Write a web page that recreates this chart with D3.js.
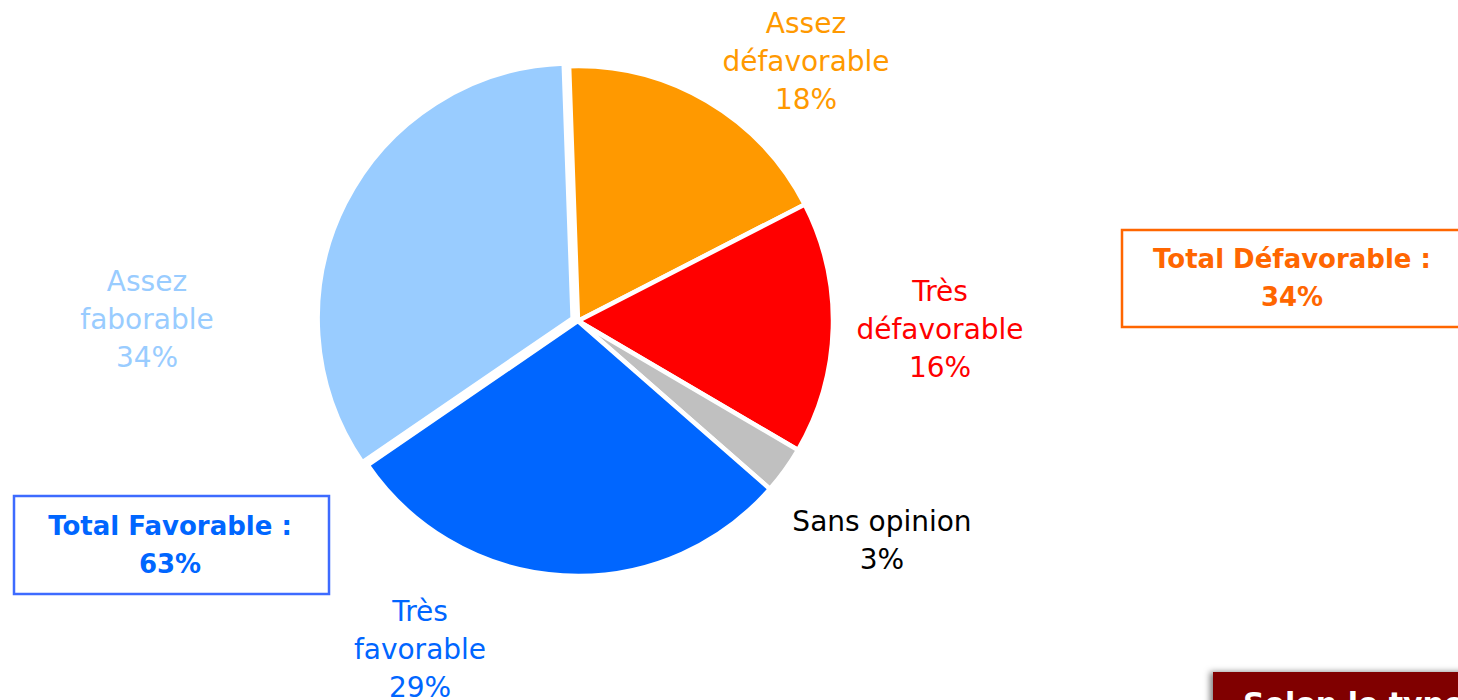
<!DOCTYPE html>
<html>
<head>
<meta charset="utf-8">
<script src="https://cdn.jsdelivr.net/npm/d3@7"></script>
<style>
  body { margin: 0; background: #fff; }
  text { font-family: "DejaVu Sans", sans-serif; }
</style>
</head>
<body>
<div id="chart"></div>
<script>
// data
var categories = ["Assez défavorable", "Très défavorable", "Sans opinion", "Très favorable", "Assez faborable"];
var values = [18, 16, 3, 29, 34];
var labelLines = [["Assez", "défavorable", "18%"], ["Très", "défavorable", "16%"], ["Sans opinion", "3%"], ["Très", "favorable", "29%"], ["Assez", "faborable", "34%"]];
var totalLabels = [["Total Défavorable :", "34%"], ["Total Favorable :", "63%"]];

// styling / layout
var colors = ["#FF9900", "#FF0000", "#C0C0C0", "#0066FF", "#99CCFF"];
var labelColors = ["#FF9900", "#FF0000", "#000000", "#0066FF", "#99CCFF"];
var labelPos = [[806, 33], [940, 301], [882, 531], [420, 621], [147, 291]];
var explode = [0, 0, 0, 0, 6];

var width = 1458, height = 700,
    cx = 578, cy = 321, radius = 255,
    lineH = 38;

var svg = d3.select("#chart").append("svg")
    .attr("width", width)
    .attr("height", height);

var pie = d3.pie()
    .sort(null)
    .startAngle(-0.035)
    .endAngle(2 * Math.PI - 0.035)
    .value(function(d) { return d; });

var arc = d3.arc()
    .innerRadius(0)
    .outerRadius(radius);

var g = svg.append("g")
    .attr("transform", "translate(" + cx + "," + cy + ")");

g.selectAll("path")
    .data(pie(values))
  .enter().append("path")
    .attr("d", arc)
    .attr("fill", function(d, i) { return colors[i]; })
    .attr("stroke", "#fff")
    .attr("stroke-width", 4.5)
    .attr("stroke-linejoin", "round")
    .attr("transform", function(d, i) {
      var a = (d.startAngle + d.endAngle) / 2;
      return "translate(" + (Math.sin(a) * explode[i]) + "," + (-Math.cos(a) * explode[i]) + ")";
    });

// slice labels
categories.forEach(function(c, i) {
  var t = svg.append("text")
      .attr("x", labelPos[i][0])
      .attr("y", labelPos[i][1])
      .attr("text-anchor", "middle")
      .attr("fill", labelColors[i])
      .style("font-size", "28px");
  labelLines[i].forEach(function(l, j) {
    t.append("tspan")
        .attr("x", labelPos[i][0])
        .attr("dy", j === 0 ? 0 : lineH)
        .text(l);
  });
});

// total boxes
var boxes = [
  {x: 1121, y: 229, w: 340, h: 97, color: "#FF6600", stroke: "#FF6600", tx: 1292, ty: 268, text: totalLabels[0]},
  {x: 13, y: 495, w: 315, h: 98, color: "#0066FF", stroke: "#3D6BFF", tx: 170, ty: 535, text: totalLabels[1]}
];

boxes.forEach(function(b) {
  svg.append("rect")
      .attr("x", b.x + 1)
      .attr("y", b.y + 1)
      .attr("width", b.w)
      .attr("height", b.h)
      .attr("fill", "none")
      .attr("stroke", b.stroke)
      .attr("stroke-width", 2.5);
  var t = svg.append("text")
      .attr("x", b.tx)
      .attr("y", b.ty)
      .attr("text-anchor", "middle")
      .attr("fill", b.color)
      .style("font-size", "26px")
      .style("font-weight", "bold");
  b.text.forEach(function(l, j) {
    t.append("tspan")
        .attr("x", b.tx)
        .attr("dy", j === 0 ? 0 : lineH)
        .text(l);
  });
});

// cut-off dark red note at bottom right
var defs = svg.append("defs");
var f = defs.append("filter").attr("id", "shadow").attr("x", "-20%").attr("y", "-20%").attr("width", "140%").attr("height", "140%");
f.append("feDropShadow").attr("dx", -3).attr("dy", 0).attr("stdDeviation", 3).attr("flood-color", "#000").attr("flood-opacity", 0.5);

svg.append("rect")
    .attr("x", 1213)
    .attr("y", 672)
    .attr("width", 260)
    .attr("height", 60)
    .attr("fill", "#800000")
    .attr("filter", "url(#shadow)");

svg.append("text")
    .attr("x", 1243)
    .attr("y", 714)
    .attr("fill", "#fff")
    .style("font-size", "30px")
    .style("font-weight", "bold")
    .text("Selon le type");
</script>
</body>
</html>
